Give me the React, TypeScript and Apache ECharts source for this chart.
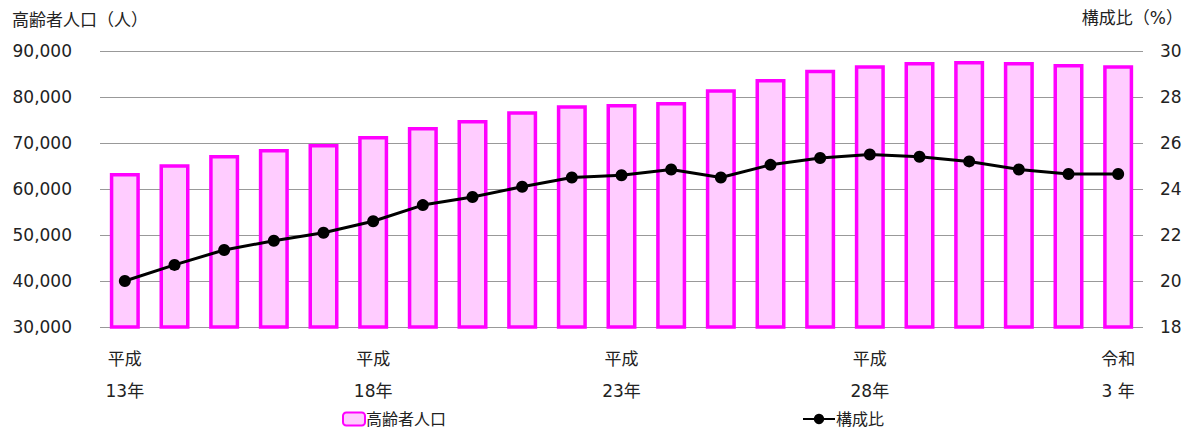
import React, { useEffect, useRef } from "react";
import * as echarts from "echarts";

const categories = [
  "平成13年", "平成14年", "平成15年", "平成16年", "平成17年", "平成18年", "平成19年",
  "平成20年", "平成21年", "平成22年", "平成23年", "平成24年", "平成25年", "平成26年",
  "平成27年", "平成28年", "平成29年", "平成30年", "令和元年", "令和2年", "令和3年",
];
const tickLabels: Record<number, string> = {
  0: "平成\n13年",
  5: "平成\n18年",
  10: "平成\n23年",
  15: "平成\n28年",
  20: "令和\n3 年",
};
const elderly = [
  63500, 65400, 67400, 68700, 69800, 71500, 73500, 75000, 76900, 78200, 78500,
  78900, 81700, 83900, 85900, 86900, 87600, 87800, 87600, 87200, 86900,
];
const ratio = [
  20.0, 20.7, 21.35, 21.75, 22.1, 22.6, 23.3, 23.65, 24.1, 24.5, 24.6,
  24.85, 24.5, 25.05, 25.35, 25.5, 25.4, 25.2, 24.85, 24.65, 24.65,
];
const seriesNames = ["高齢者人口", "構成比"];
const axisNames = ["高齢者人口（人）", "構成比（%）"];

const FONT = "'DejaVu Sans', 'Noto Sans CJK JP', sans-serif";
const FS = 17;

export default function App() {
  const ref = useRef<HTMLDivElement>(null);
  useEffect(() => {
    if (!ref.current) return;
    const chart = echarts.init(ref.current, null, { renderer: "svg" });
    chart.setOption({
      animation: false,
      textStyle: { fontFamily: FONT, color: "#222" },
      grid: { left: 100, right: 50, top: 51, bottom: 105 },
      legend: [
        {
          data: [seriesNames[0]],
          left: 337,
          top: 406,
          itemWidth: 22,
          itemHeight: 13,
          itemGap: 4,
          textStyle: { fontFamily: FONT, fontSize: 16, color: "#222", padding: [0, 0, 0, -4] },
        },
        {
          data: [seriesNames[1]],
          left: 797,
          top: 406,
          itemWidth: 32,
          itemHeight: 13,
          textStyle: { fontFamily: FONT, fontSize: 16, color: "#222", padding: [0, 0, 0, -4] },
        },
      ],
      graphic: [
        {
          type: "text",
          left: 12,
          top: 11,
          style: { text: axisNames[0], font: `${FS}px ${FONT}`, fill: "#222" },
        },
        {
          type: "text",
          right: 10,
          top: 9,
          style: { text: axisNames[1], font: `${FS}px ${FONT}`, fill: "#222" },
        },
      ],
      xAxis: {
        type: "category",
        data: categories,
        axisLine: { show: false },
        axisTick: { show: false },
        axisLabel: {
          interval: 0,
          margin: 16,
          fontSize: FS,
          lineHeight: 32,
          color: "#222",
          fontFamily: FONT,
          formatter: (_v: string, i: number) => tickLabels[i] ?? "",
        },
      },
      yAxis: [
        {
          type: "value",
          min: 30000,
          max: 90000,
          interval: 10000,
          axisLabel: {
            fontSize: FS,
            margin: 28,
            color: "#222",
            fontFamily: FONT,
            formatter: (v: number) => v.toLocaleString("en-US"),
          },
          splitLine: { lineStyle: { color: "#999", width: 1 } },
          axisLine: { show: false },
          axisTick: { show: false },
        },
        {
          type: "value",
          min: 18,
          max: 30,
          interval: 2,
          axisLabel: { fontSize: FS, margin: 17, color: "#222", fontFamily: FONT },
          splitLine: { show: false },
          axisLine: { show: false },
          axisTick: { show: false },
        },
      ],
      series: [
        {
          name: seriesNames[0],
          type: "bar",
          data: elderly,
          barWidth: 30,
          itemStyle: { color: "#FFCCFF", borderColor: "#FF00FF", borderWidth: 3.5 },
        },
        {
          name: seriesNames[1],
          type: "line",
          yAxisIndex: 1,
          data: ratio,
          symbol: "circle",
          symbolSize: 12,
          lineStyle: { color: "#000", width: 3 },
          itemStyle: { color: "#000" },
        },
      ],
    });
    return () => chart.dispose();
  }, []);
  return (
    <div
      ref={ref}
      style={{ position: "absolute", left: 0, top: 0, width: 1193, height: 432 }}
    />
  );
}
